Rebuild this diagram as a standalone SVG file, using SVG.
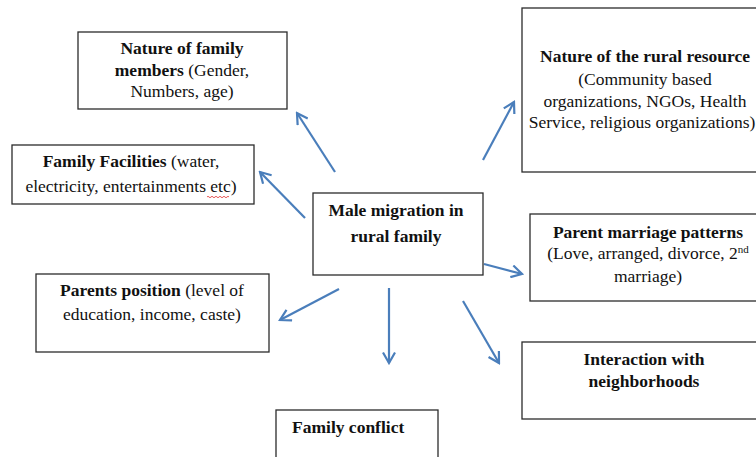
<svg xmlns="http://www.w3.org/2000/svg" width="756" height="457" viewBox="0 0 756 457">
<style>
.box{fill:#fff;stroke:#2b2b2b;stroke-width:1.3}
text{font-family:"Liberation Serif","Times New Roman",serif;font-size:17.5px;fill:#111}
.c{text-anchor:middle}
.b{font-weight:bold}
.arr{stroke:#4A7EBB;stroke-width:2.2;fill:none;marker-end:url(#ah)}
</style>
<defs>
<marker id="ah" markerUnits="userSpaceOnUse" viewBox="0 0 14 14" refX="12" refY="7" markerWidth="14" markerHeight="14" orient="auto">
<path d="M1.5,1 L12,7 L1.5,13" fill="none" stroke="#4A7EBB" stroke-width="2.2"/>
</marker>
</defs>
<rect width="756" height="457" fill="#fff"/>
<g id="connectors">
<line class="arr" x1="335" y1="172" x2="297" y2="113"/>
<line class="arr" x1="305" y1="218" x2="260" y2="172"/>
<line class="arr" x1="483" y1="160" x2="514" y2="102"/>
<line class="arr" x1="484" y1="264" x2="522" y2="274"/>
<line class="arr" x1="463" y1="301" x2="499" y2="363"/>
<line class="arr" x1="389" y1="288" x2="389" y2="363"/>
<line class="arr" x1="339" y1="289" x2="280" y2="320"/>
</g>
<g id="center">
<rect class="box" x="313" y="193" width="170" height="82"/>
<text class="c b" x="396" y="216">Male migration in</text>
<text class="c b" x="396" y="242">rural family</text>
</g>
<g id="nature-family">
<rect class="box" x="78" y="32" width="209" height="77"/>
<text class="c" x="182" y="54"><tspan class="b">Nature of family</tspan></text>
<text class="c" x="182" y="76"><tspan class="b">members</tspan> (Gender,</text>
<text class="c" x="182" y="97">Numbers, age)</text>
</g>
<g id="family-facilities">
<rect class="box" x="12" y="145" width="242" height="59"/>
<text class="c" x="131" y="167"><tspan class="b">Family Facilities</tspan> (water,</text>
<text class="c" x="131" y="192">electricity, entertainments etc)</text>
<path d="M207,197 q1,-1.5 2,0 t2,0 t2,0 t2,0 t2,0 t2,0 t2,0 t2,0 t2,0 t2,0 t2,0" fill="none" stroke="#e03030" stroke-width="0.8"/>
</g>
<g id="parents-position">
<rect class="box" x="36" y="274" width="233" height="78"/>
<text class="c" x="152" y="296"><tspan class="b">Parents position</tspan> (level of</text>
<text class="c" x="152" y="320">education, income, caste)</text>
</g>
<g id="family-conflict">
<rect class="box" x="276" y="410" width="162" height="60"/>
<text class="b" x="292" y="433">Family conflict</text>
</g>
<g id="rural-resource">
<rect class="box" x="522" y="8" width="250" height="164"/>
<text class="c b" x="645" y="62">Nature of the rural resource</text>
<text class="c" x="645" y="85">(Community based</text>
<text class="c" x="645" y="107">organizations, NGOs, Health</text>
<text class="c" x="642" y="128" font-size="17px">Service, religious organizations)</text>
</g>
<g id="marriage-patterns">
<rect class="box" x="530" y="214" width="240" height="87"/>
<text class="c b" x="648" y="238">Parent marriage patterns</text>
<text class="c" x="648" y="259">(Love, arranged, divorce, 2<tspan font-size="11" dy="-6">nd</tspan></text>
<text class="c" x="648" y="282">marriage)</text>
</g>
<g id="neighborhoods">
<rect class="box" x="522" y="342" width="250" height="77"/>
<text class="c b" x="644" y="365">Interaction with</text>
<text class="c b" x="644" y="387">neighborhoods</text>
</g>
</svg>
